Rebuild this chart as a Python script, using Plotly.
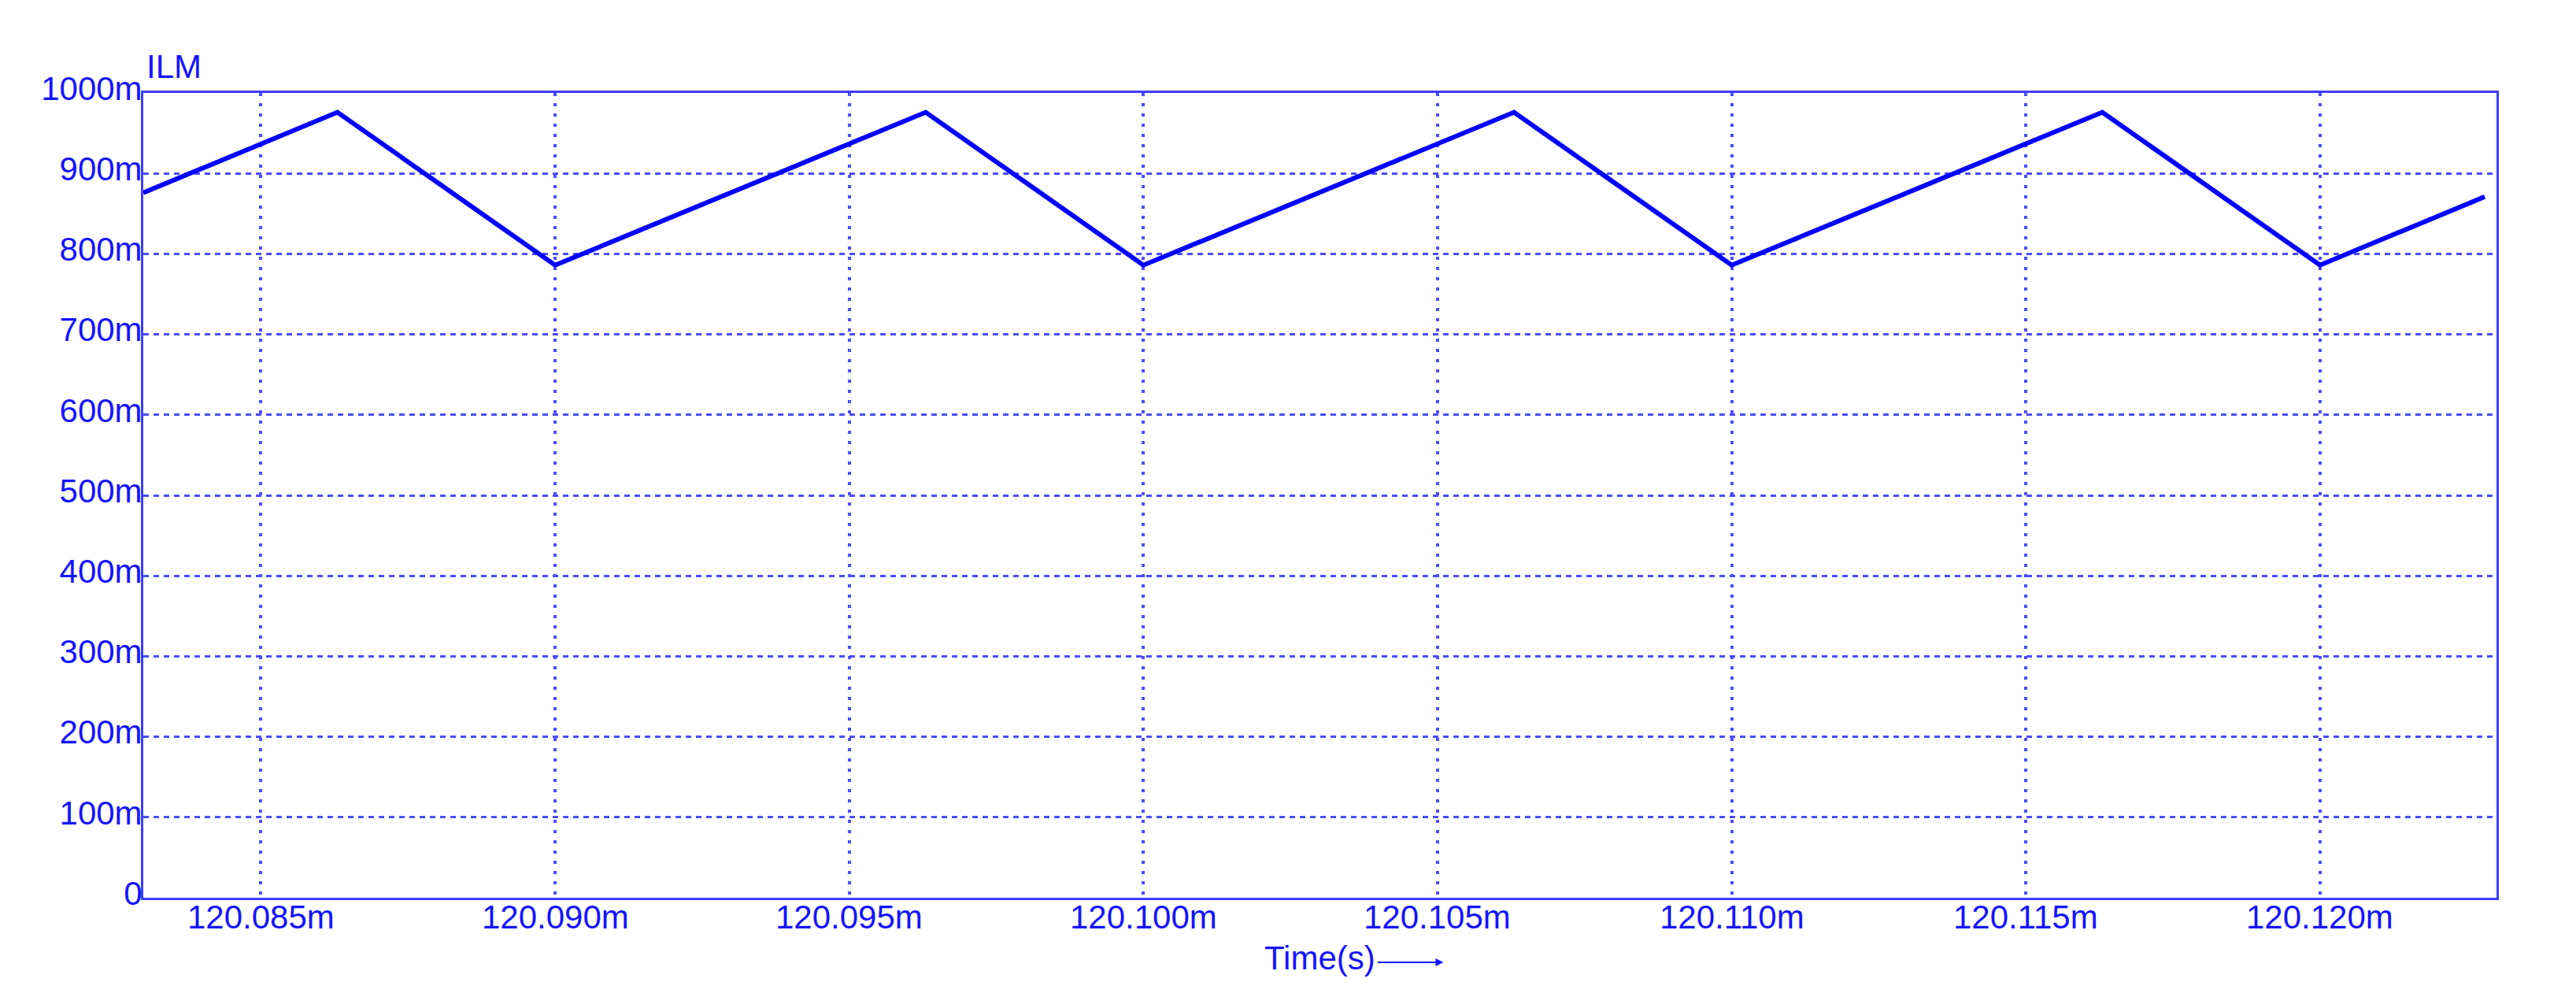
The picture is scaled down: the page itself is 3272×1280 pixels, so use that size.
import plotly.graph_objects as go

# Time in ms, current in mA
time_ms = [120.083, 120.0863, 120.090, 120.0963, 120.100, 120.1063,
           120.110, 120.1163, 120.120, 120.1228]
ilm_ma = [876, 976, 786, 976, 786, 976, 786, 976, 786, 871]

x_ticks = [120.085, 120.090, 120.095, 120.100, 120.105, 120.110, 120.115, 120.120]
x_labels = ['120.085m', '120.090m', '120.095m', '120.100m',
            '120.105m', '120.110m', '120.115m', '120.120m']
y_ticks = [0, 100, 200, 300, 400, 500, 600, 700, 800, 900, 1000]
y_labels = ['0', '100m', '200m', '300m', '400m', '500m', '600m',
            '700m', '800m', '900m', '1000m']

trace_color = '#0000ff'
axis_color = '#3c3cff'
grid_color = '#4c4cff'
text_color = '#1414ff'
font_size = 42

fig = go.Figure()
fig.add_trace(go.Scatter(
    x=time_ms, y=ilm_ma,
    mode='lines',
    line=dict(color=trace_color, width=6),
    showlegend=False,
))

# page body has an 8px margin, so the figure is 16px smaller each way
fig.update_layout(
    width=3264, height=1272,
    margin=dict(l=174, r=101, t=110, b=140),
    plot_bgcolor='white',
    paper_bgcolor='white',
    font=dict(family='Liberation Sans, Arial', size=font_size, color=text_color),
)

fig.update_xaxes(
    range=[120.083, 120.123],
    tickmode='array', tickvals=x_ticks, showticklabels=False,
    showline=True, mirror=True, linecolor=axis_color, linewidth=3,
    showgrid=True, gridcolor=grid_color, gridwidth=4, griddash='4px,9px',
    ticks='', zeroline=False, automargin=False,
)
fig.update_yaxes(
    range=[0, 1000],
    tickmode='array', tickvals=y_ticks, ticktext=y_labels,
    showline=True, mirror=True, linecolor=axis_color, linewidth=3,
    showgrid=True, gridcolor=grid_color, gridwidth=3, griddash='7px,6px',
    ticks='', zeroline=False, automargin=False,
    ticklabelstandoff=-10, ticklabelshift=-6,
)

# x tick labels sit tight under the axis, like the simulator draws them
for tv, tt in zip(x_ticks, x_labels):
    fig.add_annotation(
        xref='x', yref='paper', x=tv, y=0,
        xanchor='center', yanchor='middle', yshift=-24,
        text=tt, showarrow=False,
        font=dict(size=font_size, color=text_color),
    )

# Signal name above the plot
fig.add_annotation(
    xref='paper', yref='paper', x=0, y=1,
    xanchor='left', yanchor='middle', xshift=2, yshift=34,
    text='ILM', showarrow=False,
    font=dict(size=font_size, color=text_color),
)
# Axis title with arrow
fig.add_annotation(
    xref='paper', yref='paper', x=0.5, y=0,
    xanchor='center', yanchor='middle', yshift=-76,
    text='Time(s)', showarrow=False,
    font=dict(size=font_size, color=text_color),
)
fig.add_annotation(
    xref='paper', yref='paper', x=0.5525, y=0,
    ax=-85, ay=0, yshift=-82,
    text='', showarrow=True,
    arrowhead=2, arrowsize=1, arrowwidth=2, arrowcolor=text_color,
)

fig.write_html("out.html")
